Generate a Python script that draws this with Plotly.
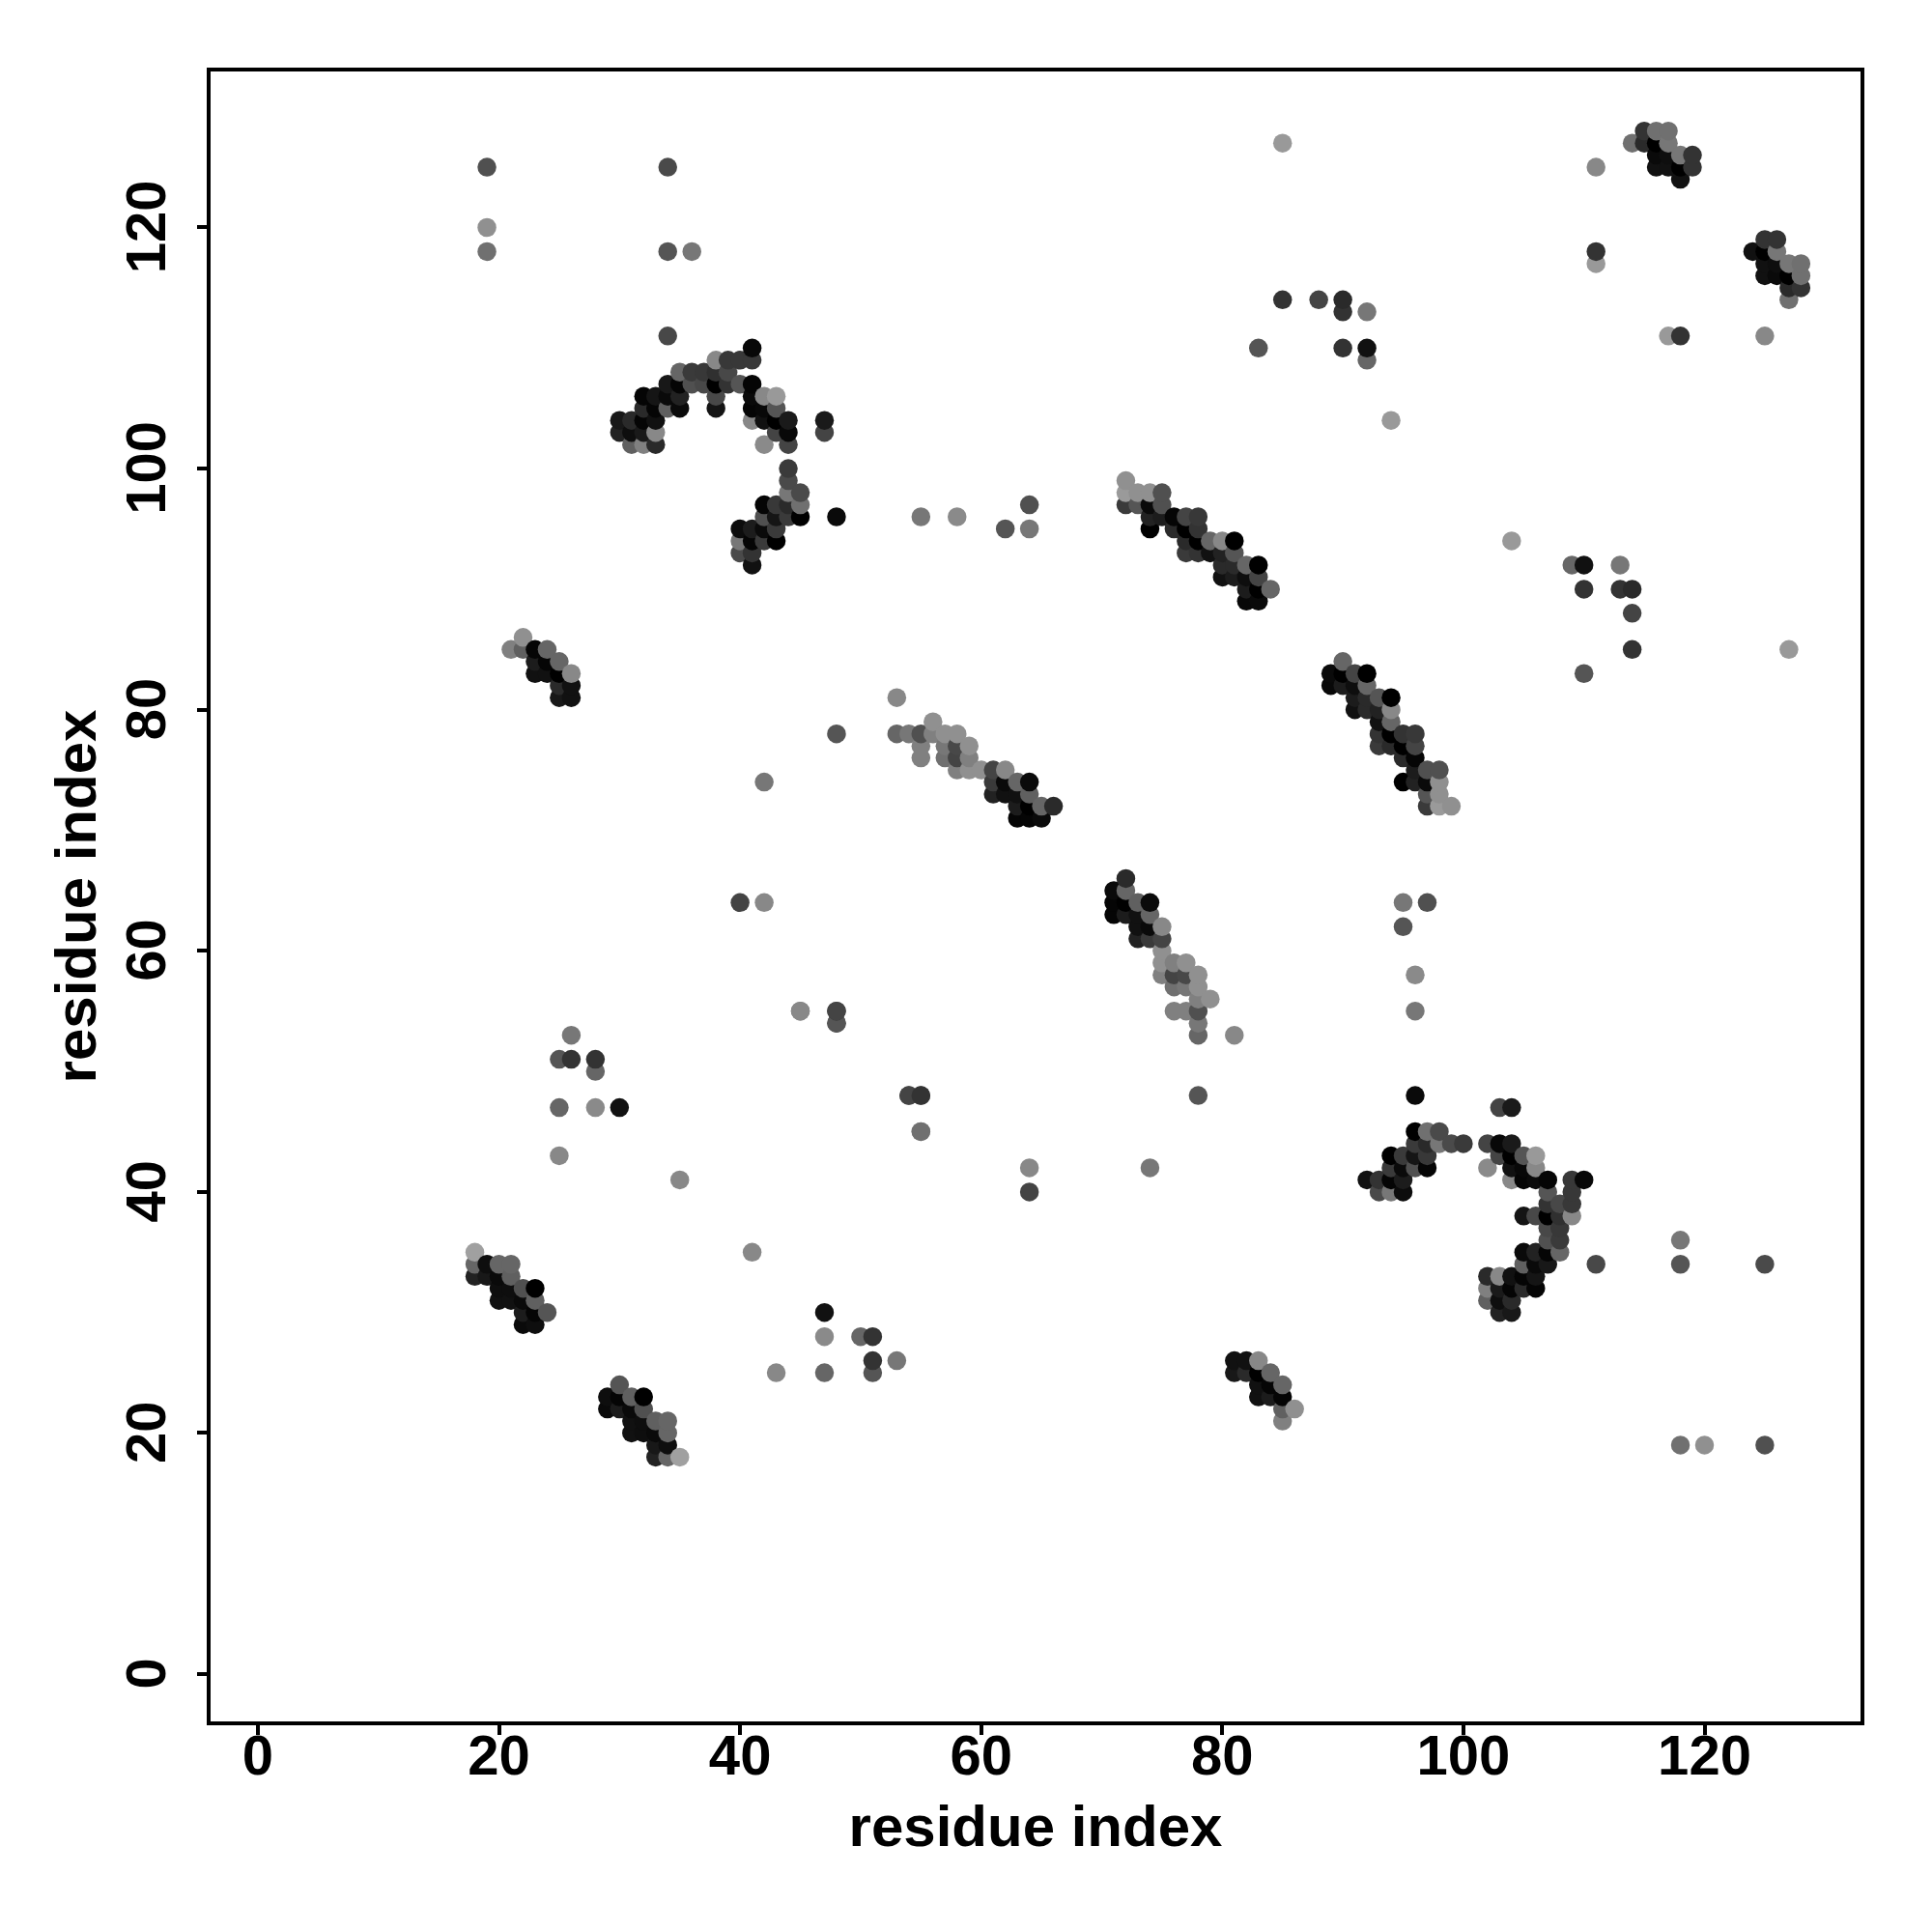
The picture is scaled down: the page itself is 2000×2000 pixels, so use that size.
import plotly.graph_objects as go

# upper-triangle contacts: residue_i, residue_j, grey level
residue_i = [
    18,18,19,20,21, 18,19,20,21, 20,21,22,23, 20,21,22,23, 22,23,24, 22,23,
    22,21,22,23,24, 23,24,25, 23,24,25,26, 25,26, 25,26,
    41, 38,39,40,41, 35,36,37,38,39, 34,35,36,37,38,39,40,41,
    32,33,34,35,38,41,42,43, 32,33,34,35,38,41,42,43,
    30,31,32,33,41,42,43,44,47, 30,31,32,33,43,44,47, 31,32,33,42,44,
    44,44,44,45, 42,43,44,45, 42,43,44,45,48, 40,41,42,43, 40,41,42,43, 40,41, 41,
    53, 56, 53,54,55,56,57,58, 55,57,58,59, 55,57,58,59, 58,59,60,61,62,
    61,62,63,64, 61,62,63,64, 63,64,65,66, 63,64,65,
    72, 72,73,74,75, 72,73,74,75, 74,75,76,77,78, 74,76,77,78,
    77,78,79,80,81, 77,78,79,80,81, 80,81,82,83, 80,81,82,83, 82,83,84, 82,83,
    115,116,117, 114,115,116,117, 116,117,118,119, 116,117,118,119, 118,
    19,19,19,34,34,36,34, 85,111,111,111, 85,88,90,90,92, 83,90,92,92, 94,
    55,58,62,64,64, 48,42, 40,42, 45,48,48,
    26,25,26,28,28,25,28,30,25, 54,55,55, 35,
]
residue_j = [
    35,34,34,34,34, 33,33,33,33, 32,32,32,32, 31,31,31,31, 30,30,30, 29,29,
    86,85,85,85,85, 84,84,84, 83,83,83,83, 82,82, 81,81,
    110, 109,109,109,109, 108,108,108,108,108, 107,107,107,107,107,107,107,107,
    106,106,106,106,106,106,106,106, 105,105,105,105,105,105,105,105,
    104,104,104,104,104,104,104,104,104, 103,103,103,103,103,103,103, 102,102,102,102,102,
    100,99,98,98, 97,97,97,97, 96,96,96,96,96, 95,95,95,95, 94,94,94,94, 93,93, 92,
    81, 79, 78,78,78,78,78,78, 77,77,77,77, 76,76,76,76, 75,75,75,75,75,
    74,74,74,74, 73,73,73,73, 72,72,72,72, 71,71,71,
    99, 98,98,98,98, 97,97,97,97, 96,96,96,96,96, 95,95,95,95,
    94,94,94,94,94, 93,93,93,93,93, 92,92,92,92, 91,91,91,91, 90,90,90, 89,89,
    128,128,128, 127,127,127,127, 126,126,126,126, 125,125,125,125, 124,
    125,120,118,125,118,118,111, 127,125,118,117, 114,114,114,113,113, 110,110,110,109, 104,
    96,96,95,97,95, 78,74, 64,64, 55,55,54,
    53,51,51,51,50,47,47,47,43, 48,48,45, 41,
]
grey_level = [
    160,102,14,102,102, 34,24,10,96, 14,14,80,0, 17,17,10,96, 28,5,85, 10,14,
    144,128,96,5,102, 28,5,102, 17,17,0,136, 42,17, 24,17,
    8, 136,56,56,56, 102,58,56,48,72, 24,5,80,72,0,51,85,5,
    5,21,10,34,72,10,136,153, 42,5,96,10,20,5,8,85,
    24,42,5,17,136,17,0,26,26, 34,14,26,136,68,8,68, 96,128,42,138,68,
    58,74,119,74, 5,56,42,112, 80,21,58,0,10, 12,28,10,58, 119,5,58,0, 74,51, 17,
    136, 144, 102,119,80,128,144,144, 128,119,72,144, 128,112,68,128, 128,144,144,68,136,
    58,10,102,10, 34,17,17,96, 28,0,102,42, 5,5,10,
    144, 154,144,144,80, 58,85,10,80, 34,28,5,68,56, 0,42,0,51,
    42,0,102,136,0, 58,51,17,34,85, 42,42,102,0, 17,28,14,68, 28,0,102, 8,10,
    51,112,112, 112,42,0,119, 10,14,119,51, 17,17,0,51, 17,
    80,144,112,74,85,119,72, 153,136,51,153, 51,68,42,51,119, 85,51,17,102, 153,
    119,138,85,80,119, 85,119, 68,136, 112,51,68,
    119,85,51,51,102,102,138,17,136, 85,68,136, 136,
]
tick_values = [0, 20, 40, 60, 80, 100, 120]
axis_label = "residue index"

xs = residue_i + residue_j
ys = residue_j + residue_i
greys = grey_level + grey_level
order = sorted(range(len(xs)), key=lambda k: (xs[k], ys[k]))

fig = go.Figure(go.Scatter(
    x=[xs[k] for k in order],
    y=[ys[k] for k in order],
    mode="markers",
    marker=dict(size=19.5, color=[f"rgb({greys[k]},{greys[k]},{greys[k]})" for k in order], line=dict(width=0)),
))

axis = dict(
    tickmode="array", tickvals=tick_values,
    ticks="outside", ticklen=10, tickwidth=3.5, tickcolor="black",
    showline=True, linecolor="black", linewidth=4, mirror=True,
    showgrid=False, zeroline=False, range=[-3.92, 132.94],
    tickfont=dict(family="Liberation Sans", size=58, color="black", weight="bold"),
)
title_font = dict(family="Liberation Sans", size=60, color="black", weight="bold")
fig.update_xaxes(**axis, ticklabelstandoff=-29,
                 title=dict(text=axis_label, font=title_font, standoff=22))
fig.update_yaxes(**axis, tickangle=-90, ticklabelstandoff=10, ticklabelshift=8,
                 title=dict(text=axis_label, font=title_font, standoff=0))
fig.update_layout(width=2000, height=2000, margin=dict(l=210, r=82, t=66, b=226),
                  paper_bgcolor="white", plot_bgcolor="white", showlegend=False)
assert len(residue_i) == len(residue_j) == len(grey_level)
fig.write_html("out.html")
